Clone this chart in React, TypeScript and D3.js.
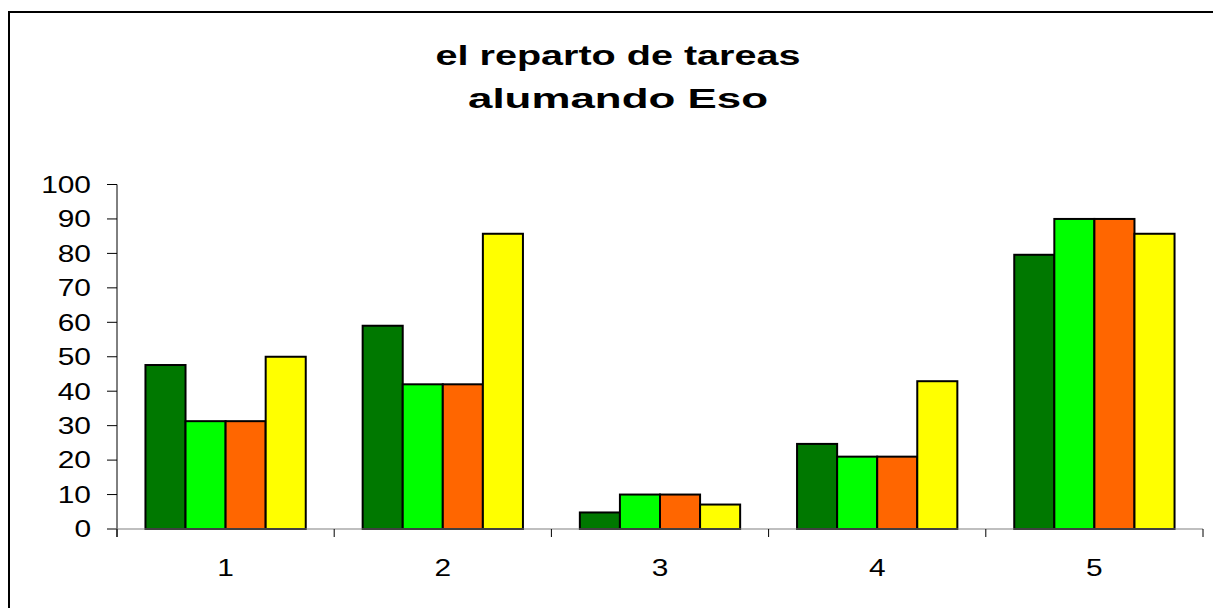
import React from "react";
import * as d3 from "d3";

const categories = ["1", "2", "3", "4", "5"];
const seriesNames = ["s1", "s2", "s3", "s4"];
const seriesColors = ["#007800", "#00FF00", "#FF6600", "#FFFF00"];
const s1 = [47.6, 59, 4.8, 24.7, 79.6];
const s2 = [31.3, 42, 10, 21, 90];
const s3 = [31.3, 42, 10, 21, 90];
const s4 = [50, 85.7, 7.1, 42.9, 85.7];
const seriesValues = [s1, s2, s3, s4];
const yTicks = [0, 10, 20, 30, 40, 50, 60, 70, 80, 90, 100];
const titleLines = ["el reparto de tareas", "alumando Eso"];
const titleWidths = [365, 300];

const font = "Arial, 'Liberation Sans', Helvetica, sans-serif";

function SText(props: { x: number; y: number; sx: number; size: number; anchor: string; bold?: boolean; children: React.ReactNode }) {
  return (
    <text transform={`translate(${props.x},${props.y}) scale(${props.sx},1)`} x={0} y={0}
      textAnchor={props.anchor} fontFamily={font} fontWeight={props.bold ? "bold" : "normal"}
      fontSize={props.size} fill="#000">{props.children}</text>
  );
}

export default function App() {
  const W = 1213, H = 608;
  const left = 117, right = 1203, top = 184.5, bottom = 529;
  const x0 = d3.scaleBand<string>().domain(categories).range([left, right]).paddingInner(0.262).paddingOuter(0.131);
  const x1 = d3.scaleBand<string>().domain(seriesNames).range([0, x0.bandwidth()]);
  const y = d3.scaleLinear().domain([0, 100]).range([bottom, top]);
  const step = (right - left) / categories.length;
  return (
    <svg width={W} height={H} style={{ position: "absolute", left: 0, top: 0, display: "block" }}>
      <rect x={0} y={0} width={W} height={H} fill="#fff" />
      <rect x={9} y={12} width={W + 20} height={H + 20} fill="none" stroke="#000" strokeWidth={2} />
      {titleLines.map((t, i) => (
        <text key={i} x={618} y={65 + i * 43} textAnchor="middle" fontFamily={font} fontWeight="bold"
          fontSize={28} textLength={titleWidths[i]} lengthAdjust="spacingAndGlyphs" fill="#000">{t}</text>
      ))}
      {categories.map((c, ci) =>
        seriesNames.map((s, si) => {
          const v = seriesValues[si][ci];
          return (
            <rect key={c + s} x={(x0(c) ?? 0) + (x1(s) ?? 0)} y={y(v)} width={x1.bandwidth()} height={bottom - y(v)}
              fill={seriesColors[si]} stroke="#000" strokeWidth={2} />
          );
        })
      )}
      <line x1={left} x2={left} y1={top} y2={bottom + 8} stroke="#000" strokeWidth={1} />
      {yTicks.map((t) => (
        <g key={t}>
          <line x1={left - 10} x2={left} y1={y(t)} y2={y(t)} stroke="#000" strokeWidth={1} />
          <SText x={91} y={y(t) + 8.3} sx={1.3} size={23} anchor="end">{t}</SText>
        </g>
      ))}
      <line x1={left - 10} x2={right} y1={bottom} y2={bottom} stroke="#808080" strokeWidth={1.2} />
      {d3.range(categories.length + 1).map((i) => (
        <line key={i} x1={left + i * step} x2={left + i * step} y1={bottom} y2={bottom + 8} stroke="#000" strokeWidth={1} />
      ))}
      {categories.map((c) => (
        <SText key={c} x={(x0(c) ?? 0) + x0.bandwidth() / 2} y={576} sx={1.3} size={23} anchor="middle">{c}</SText>
      ))}
    </svg>
  );
}
